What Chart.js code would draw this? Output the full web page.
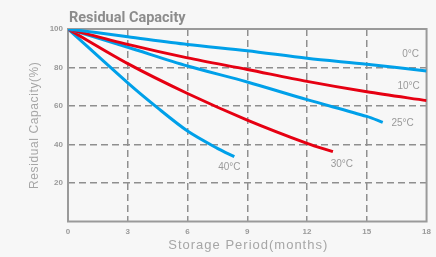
<!DOCTYPE html>
<html lang="en">
<head>
  <meta charset="UTF-8">
  <title>Residual Capacity</title>
  <script src="https://cdn.jsdelivr.net/npm/chart.js"></script>
  <style>
    html, body { margin: 0; padding: 0; background: #f7f7f7; }
    #wrap { width: 436px; height: 257px; }
  </style>
</head>
<body>
  <div id="wrap"><canvas id="capChart" width="436" height="257"></canvas></div>

  <script>
    // months / residual capacity (%)
    const months0 = [0, 3, 6, 9, 12, 15, 18];
    const cap0 = [100, 96, 92, 88.7, 84.8, 81.7, 78.2];
    const months10 = [0, 3, 6, 9, 12, 15, 18];
    const cap10 = [100, 92, 85, 79, 72.8, 67.4, 62.8];
    const months25 = [0, 3, 6, 9, 12, 15, 15.8];
    const cap25 = [100, 90.5, 80.8, 72.5, 63.3, 54.6, 51.5];
    const months30 = [0, 3, 6, 9, 12, 13.3];
    const cap30 = [100, 82, 66.5, 52.7, 40.6, 36.3];
    const months40 = [0, 3, 4.5, 6, 7.5, 8.35];
    const cap40 = [100, 72, 59, 47, 38, 33.7];

    const seriesNames = ["0°C", "10°C", "25°C", "30°C", "40°C"];
    const xTicks = [0, 3, 6, 9, 12, 15, 18];
    const yTicks = [20, 40, 60, 80, 100];

    // where each curve label sits, in chart units (months, %)
    const labelAt = [[17.2, 87], [17.1, 70.4], [16.8, 51.2], [13.75, 30], [8.1, 28]];

    const BLUE = "#00a0e9", RED = "#e60012", GRAY = "#8f8f8f";
    const colors = [BLUE, RED, BLUE, RED, BLUE];
    const xs = [months0, months10, months25, months30, months40];
    const ys = [cap0, cap10, cap25, cap30, cap40];

    const datasets = seriesNames.map((name, i) => ({
      label: name,
      data: xs[i].map((m, j) => ({ x: m, y: ys[i][j] })),
      borderColor: colors[i],
      borderWidth: 3,
      pointRadius: 0,
      fill: false,
      tension: 0.3,
      borderCapStyle: "butt"
    }));

    const decor = {
      id: "decor",
      beforeDatasetsDraw(chart) {
        const { ctx, chartArea: a } = chart;
        ctx.save();
        ctx.strokeStyle = "#9a9a9a";
        ctx.lineWidth = 2;
        ctx.strokeRect(a.left, a.top, a.right - a.left, a.bottom - a.top);
        ctx.restore();
      },
      afterDraw(chart) {
        const { ctx, chartArea: a, scales } = chart;
        ctx.save();
        // title
        ctx.fillStyle = "#8c8c8c";
        ctx.font = "bold 14.5px Roboto";
        ctx.textBaseline = "middle";
        ctx.textAlign = "left";
        ctx.fillText("Residual Capacity", a.left + 1, 18);
        // axis titles
        ctx.fillStyle = "#a6a6a6";
        ctx.font = "13px 'Liberation Sans'";
        ctx.textAlign = "center";
        ctx.letterSpacing = "1px";
        ctx.fillText("Storage Period(months)", (a.left + a.right) / 2 + 1, 245);
        ctx.translate(35, (a.top + a.bottom) / 2);
        ctx.rotate(-Math.PI / 2);
        ctx.font = "12px 'Liberation Sans'";
        ctx.letterSpacing = "0.6px";
        ctx.fillText("Residual Capacity(%)", 0, 0);
        ctx.restore();
        // curve labels
        ctx.save();
        ctx.fillStyle = "#9a9a9a";
        ctx.font = "10px 'Liberation Sans'";
        ctx.textAlign = "center";
        ctx.textBaseline = "middle";
        seriesNames.forEach((n, i) => {
          ctx.fillText(n, scales.x.getPixelForValue(labelAt[i][0]), scales.y.getPixelForValue(labelAt[i][1]));
        });
        ctx.restore();
      }
    };

    const edgeColor = (max) => (c) => (c.tick && (c.tick.value === 0 || c.tick.value === max)) ? "rgba(0,0,0,0)" : GRAY;

    new Chart(document.getElementById("capChart"), {
      type: "line",
      data: { datasets },
      plugins: [decor],
      options: {
        responsive: false,
        animation: false,
        events: [],
        layout: { padding: { top: 29, right: 4, left: 0, bottom: 0 } },
        plugins: { legend: { display: false }, tooltip: { enabled: false } },
        scales: {
          x: {
            type: "linear",
            min: 0, max: 18,
            afterBuildTicks: (s) => { s.ticks = xTicks.map(v => ({ value: v })); },
            afterFit: (s) => { s.height = 35.5; },
            ticks: { color: "#9a9a9a", font: { size: 8, weight: "bold", family: "'Liberation Sans'" }, padding: 5, maxRotation: 0 },
            grid: { color: edgeColor(18), lineWidth: 1.5, drawTicks: false },
            border: { display: false, dash: [7, 4] }
          },
          y: {
            min: 0, max: 100,
            afterBuildTicks: (s) => { s.ticks = yTicks.map(v => ({ value: v })); },
            afterFit: (s) => { s.width = 68; },
            ticks: { color: "#9a9a9a", font: { size: 8, weight: "bold", family: "'Liberation Sans'" }, padding: 5 },
            grid: { color: edgeColor(100), lineWidth: 1.5, drawTicks: false },
            border: { display: false, dash: [7, 4] }
          }
        }
      }
    });
  </script>
</body>
</html>
